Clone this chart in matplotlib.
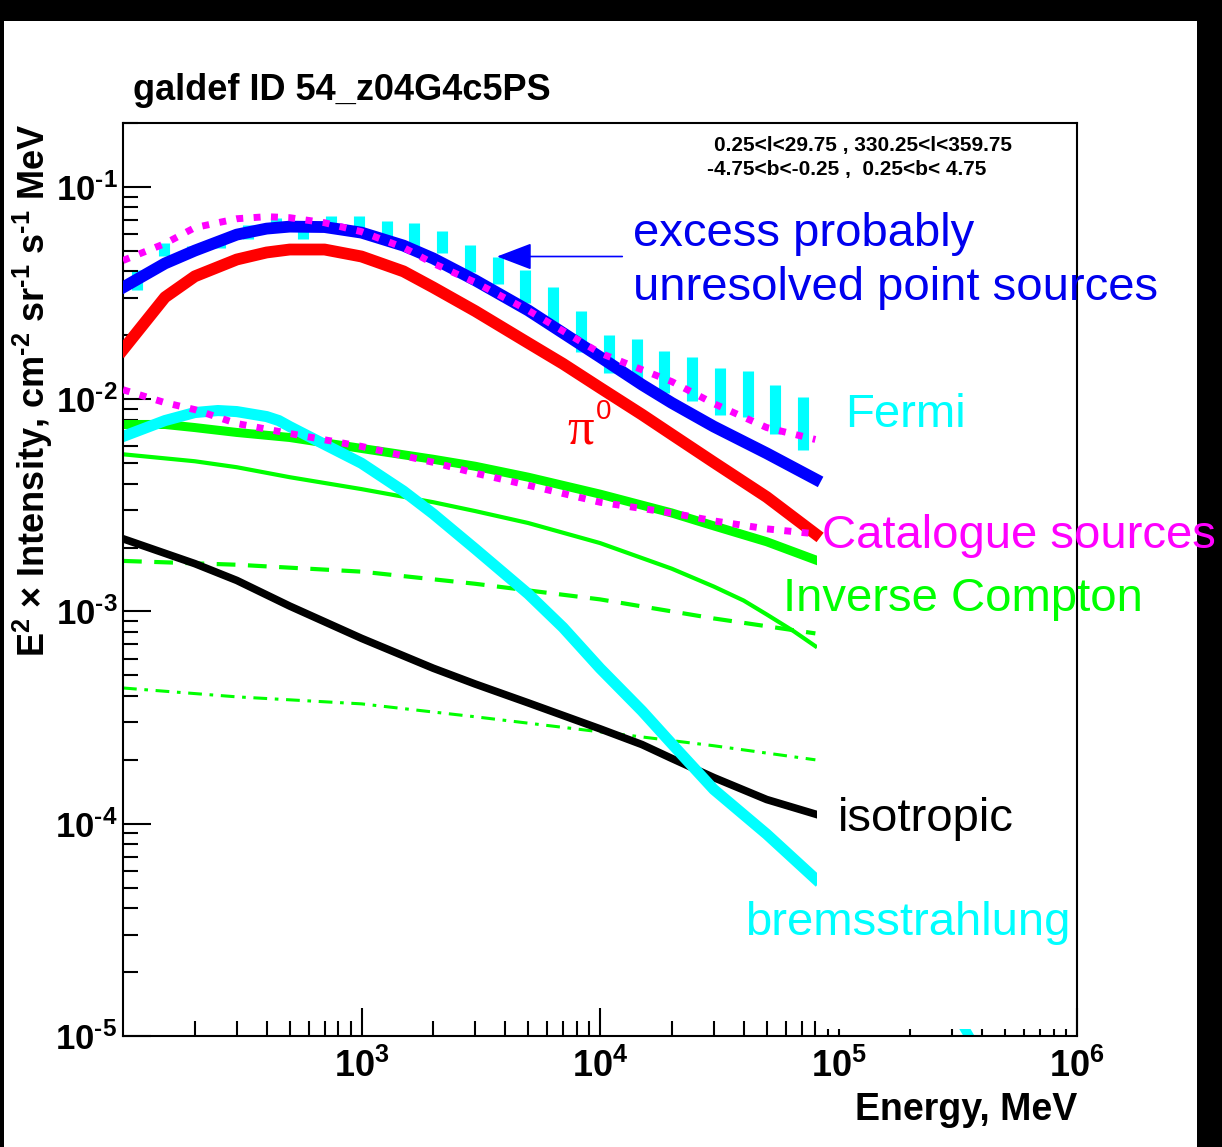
import matplotlib
matplotlib.use("Agg")
import matplotlib.pyplot as plt
from matplotlib.patches import Rectangle
from matplotlib.ticker import FixedLocator, FixedFormatter, NullFormatter

# ── Colores (estilo ROOT) ─────────────────────────────────────────────────────
AZUL     = "#0000FF"
AZUL_TXT = "#0000EE"
ROJO     = "#FF0000"
CIAN     = "#00FFFF"
VERDE    = "#00FF00"
MAGENTA  = "#FF00FF"
NEGRO    = "#000000"

plt.rcParams.update({
    "font.family":       ["Liberation Sans", "DejaVu Sans"],
    "mathtext.fontset":  "custom",
    "mathtext.rm":       "Liberation Sans:bold",
    "mathtext.bf":       "Liberation Sans:bold",
    "mathtext.default":  "regular",
})

# ── Datos ─────────────────────────────────────────────────────────────────────
# Fermi (cajas de error)
fermi_E  = [114, 149, 195, 255, 333, 436, 570, 745, 974, 1274, 1666, 2178,
            2848, 3724, 4870, 6368, 8327, 10890, 14240, 18620, 24340, 31830,
            41620, 54420, 71160]
fermi_lo = [0.0326, 0.0475, 0.0486, 0.0518, 0.0571, 0.0657, 0.0571, 0.0622,
            0.0589, 0.0541, 0.0529, 0.0486, 0.0396, 0.0348, 0.0283, 0.0228,
            0.0167, 0.0133, 0.0125, 0.01073, 0.00984, 0.00846, 0.00828,
            0.00682, 0.00574]
fermi_hi = [0.0404, 0.0547, 0.0529, 0.0571, 0.0664, 0.0716, 0.0622, 0.0731,
            0.0731, 0.0693, 0.0678, 0.0622, 0.0535, 0.0470, 0.0404, 0.0337,
            0.0260, 0.0200, 0.0192, 0.0169, 0.0158, 0.01405, 0.0136,
            0.0117, 0.01027]

# modelo total (azul) y pi0 (rojo)
model_E   = [100, 150, 200, 300, 400, 500, 700, 1000, 1500, 2000, 3000, 5000,
             7000, 1e4, 1.5e4, 2e4, 3e4, 5e4, 8e4]
total_val = [0.0336, 0.0436, 0.0501, 0.0596, 0.0636, 0.0650, 0.0647, 0.0609,
             0.0529, 0.0460, 0.0363, 0.0262, 0.0205, 0.0158, 0.0117, 0.0096,
             0.00743, 0.00556, 0.0042]
pi0_val   = [0.0171, 0.0302, 0.0379, 0.0455, 0.0491, 0.0507, 0.0507, 0.0470,
             0.0400, 0.0336, 0.0260, 0.0184, 0.01467, 0.01132, 0.00846,
             0.00682, 0.00504, 0.00346, 0.00232]

# modelo + fuentes de catálogo (magenta punteado superior)
tot_src_E   = [100, 150, 200, 300, 400, 500, 700, 1000, 1500, 2000, 3000, 5000,
               1e4, 2e4, 3e4, 5e4, 8e4]
tot_src_val = [0.045, 0.0541, 0.0643, 0.0708, 0.0724, 0.0716, 0.0678, 0.0615,
               0.0518, 0.0436, 0.0355, 0.0262, 0.0165, 0.0121, 0.00953,
               0.00735, 0.00646]

# fuentes de catálogo (magenta punteado inferior)
src_E   = [100, 150, 200, 300, 500, 1000, 2000, 3000, 5000, 1e4, 2e4, 3e4,
           5e4, 8e4]
src_val = [0.01108, 0.00963, 0.00893, 0.00768, 0.00689, 0.00599, 0.00504,
           0.00448, 0.00393, 0.00327, 0.00291, 0.00267, 0.00245, 0.00232]

# bremsstrahlung
brems_E   = [100, 150, 200, 250, 300, 400, 450, 500, 700, 1000, 1500, 2000,
             3000, 5000, 7000, 1e4, 1.5e4, 2e4, 3e4, 5e4, 8e4]
brems_val = [0.00667, 0.00793, 0.00865, 0.00884, 0.00874, 0.00828, 0.00793,
             0.00743, 0.00612, 0.00499, 0.00369, 0.00288, 0.00197, 0.00121,
             0.00084, 0.00054, 0.00034, 0.000238, 0.000145, 0.0000893,
             0.000055]
stray_E   = [3.25e5, 3.6e5]
stray_val = [1.17e-5, 9.6e-6]

# inverse Compton: total y componentes
ic_E      = [100, 150, 200, 300, 500, 1000, 2000, 3000, 5000, 1e4, 2e4, 3e4,
             5e4, 8e4]
ic_total  = [0.0076, 0.0076, 0.00735, 0.00697, 0.0066, 0.00586, 0.00521,
             0.00483, 0.00429, 0.00357, 0.00291, 0.00253, 0.00213, 0.00175]
ic_opt_E  = [100, 200, 300, 500, 1000, 2000, 3000, 5000, 1e4, 2e4, 3e4, 4e4,
             5e4, 6.5e4, 8e4]
ic_opt    = [0.0055, 0.0051, 0.00478, 0.00429, 0.00377, 0.00327, 0.00297,
             0.00261, 0.0021, 0.00159, 0.00131, 0.001126, 0.000968, 0.000806,
             0.000686]
ic_cmp_E  = [100, 300, 1000, 3000, 1e4, 3e4, 8e4]
ic_cmb    = [0.00173, 0.00166, 0.00154, 0.00135, 0.00114, 0.000927, 0.000788]
ic_ir     = [0.000436, 0.000396, 0.000367, 0.000319, 0.000271, 0.000233,
             0.0002]

# isotrópico
iso_E   = [100, 200, 300, 500, 1000, 2000, 3000, 5000, 1e4, 1.5e4, 2e4, 3e4,
           5e4, 8e4]
iso_val = [0.0022, 0.00168, 0.0014, 0.00106, 0.000747, 0.00054, 0.000455,
           0.000371, 0.00028, 0.000236, 0.000203, 0.000165, 0.00013,
           0.000111]

x_major = [1e3, 1e4, 1e5, 1e6]
x_labels = ["3", "4", "5", "6"]
y_major = [1e-5, 1e-4, 1e-3, 1e-2, 1e-1]
y_labels = ["-5", "-4", "-3", "-2", "-1"]

# ── Figura ────────────────────────────────────────────────────────────────────
W, H = 1222, 1147


def fx(px):
    return px / W


def fy(py):
    return 1 - py / H


fig = plt.figure(figsize=(W / 100, H / 100), dpi=100)
fig.patch.set_facecolor("black")
fig.patches.append(Rectangle((fx(4), 0), fx(1197) - fx(4), fy(21),
                             transform=fig.transFigure, facecolor="white",
                             edgecolor="none", zorder=-10))

ax = fig.add_axes([fx(123), fy(1036), fx(1077) - fx(123), fy(123) - fy(1036)])
ax.set_xscale("log")
ax.set_yscale("log")
ax.set_xlim(100, 1e6)
ax.set_ylim(1e-5, 0.2)
for s in ax.spines.values():
    s.set_linewidth(1.5)

# Fermi
ax.vlines(fermi_E, fermi_lo, fermi_hi, colors=CIAN, linewidth=8, zorder=1)

# componentes
ax.plot(ic_cmp_E, ic_ir, color=VERDE, lw=2.2, zorder=2,
        linestyle=(0, (4.5, 2.5, 1.2, 2.5)))
ax.plot(ic_cmp_E, ic_cmb, color=VERDE, lw=3, zorder=2,
        linestyle=(0, (4.5, 3)))
ax.plot(ic_opt_E, ic_opt, color=VERDE, lw=3, zorder=2)
ax.plot(ic_E, ic_total, color=VERDE, lw=6.5, zorder=2)
ax.plot(iso_E, iso_val, color=NEGRO, lw=5.5, zorder=2)
ax.plot(brems_E, brems_val, color=CIAN, lw=8, zorder=2)
ax.plot(stray_E, stray_val, color=CIAN, lw=7, zorder=2, solid_capstyle="butt")
ax.plot(model_E, pi0_val, color=ROJO, lw=8.5, zorder=3)
ax.plot(model_E, total_val, color=AZUL, lw=8.5, zorder=3)
ax.plot(src_E, src_val, color=MAGENTA, lw=5, zorder=4,
        linestyle=(0, (1, 1.5)), dash_capstyle="butt")
ax.plot(tot_src_E, tot_src_val, color=MAGENTA, lw=5, zorder=4,
        linestyle=(0, (1, 1.5)), dash_capstyle="butt")

# zona en blanco a la derecha de las curvas (imagen editada)
ax.add_patch(Rectangle((8.15e4, 1.08e-5), 9.85e5 - 8.15e4, 0.15 - 1.08e-5,
                       facecolor="white", edgecolor="none", zorder=2.6))

# ejes
ax.xaxis.set_major_locator(FixedLocator(x_major))
ax.xaxis.set_major_formatter(FixedFormatter(
    [r"$\mathdefault{10^{%s}}$" % e for e in x_labels]))
ax.xaxis.set_minor_locator(FixedLocator(
    [m * 10 ** d for d in range(2, 6) for m in range(2, 10)]))
ax.xaxis.set_minor_formatter(NullFormatter())
ax.yaxis.set_major_locator(FixedLocator(y_major))
ax.yaxis.set_major_formatter(FixedFormatter(
    [r"$\mathdefault{10^{\text{%s}}}$" % e for e in y_labels]))
ax.yaxis.set_minor_locator(FixedLocator(
    [m * 10.0 ** d for d in range(-5, 0) for m in range(2, 10)]))
ax.yaxis.set_minor_formatter(NullFormatter())
ax.tick_params(which="both", direction="in", top=False, right=False,
               width=1.5, color="black")
ax.tick_params(which="major", length=20)
ax.tick_params(which="minor", length=11)
ax.tick_params(axis="x", which="major", pad=9)
ax.tick_params(axis="y", which="major", pad=4)
for lab in ax.get_xticklabels():
    lab.set_fontsize(26)
    lab.set_fontweight("bold")
for lab in ax.get_yticklabels():
    lab.set_fontsize(25)
    lab.set_fontweight("bold")

# títulos
fig.text(fx(133), fy(100), "galdef ID 54_z04G4c5PS", fontsize=26,
         fontweight="bold", ha="left", va="baseline")
fig.text(fx(1077), fy(1120), "Energy, MeV", fontsize=27, fontweight="bold",
         ha="right", va="baseline")
fig.text(fx(33), fy(124),
         r"E$^{2}$ $\times$ Intensity, cm$^{\text{-2}}$ sr$^{\text{-1}}$ "
         r"s$^{\text{-1}}$ MeV",
         fontsize=26, fontweight="bold", rotation=90, ha="center", va="top")
fig.text(fx(714), fy(151), "0.25<l<29.75 , 330.25<l<359.75", fontsize=15,
         fontweight="bold", ha="left", va="baseline")
fig.text(fx(707), fy(175), "-4.75<b<-0.25 ,  0.25<b< 4.75", fontsize=15,
         fontweight="bold", ha="left", va="baseline")

# etiquetas de las curvas
etiquetas = [
    ("excess probably", 633, 246, AZUL_TXT),
    ("unresolved point sources", 633, 300, AZUL_TXT),
    ("Fermi", 845, 427, CIAN),
    ("Catalogue sources", 822, 548, MAGENTA),
    ("Inverse Compton", 783, 611, VERDE),
    ("isotropic", 838, 831, NEGRO),
    ("bremsstrahlung", 745, 935, CIAN),
]
for txt, px, py, col in etiquetas:
    fig.text(fx(px), fy(py), txt, fontsize=34, color=col, ha="left",
             va="baseline", zorder=10)
fig.text(fx(567), fy(443), "π", fontsize=38, color=ROJO, ha="left",
         va="baseline", family=["Liberation Serif", "DejaVu Serif"], zorder=10)
fig.text(fx(596), fy(419), "0", fontsize=20, color=ROJO, ha="left",
         va="baseline", zorder=10)

# flecha
ax.annotate("", xy=(3700, 0.047), xytext=(1.24e4, 0.047),
            arrowprops=dict(arrowstyle="-|>,head_length=1.1,head_width=0.42",
                            color=AZUL, lw=1.2, shrinkA=0, shrinkB=0,
                            mutation_scale=20))

fig.savefig("out.png", dpi=100, facecolor=fig.get_facecolor())
